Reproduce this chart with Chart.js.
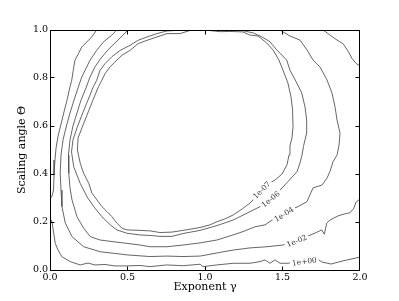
<!DOCTYPE html>
<html>
<head>
<meta charset="utf-8">
<script src="https://cdn.jsdelivr.net/npm/chart.js@4.4.1/dist/chart.umd.min.js"></script>
<style>
  html, body { margin: 0; padding: 0; background: #fff; }
  canvas { display: block; }
</style>
</head>
<body>
<canvas id="contourChart" width="399" height="301"></canvas>
<script>
const xTicks = [0, 0.5, 1.0, 1.5, 2.0];
const yTicks = [0, 0.2, 0.4, 0.6, 0.8, 1.0];

// contour lines as [gamma, theta] pairs
const level_1e07 = [
  [1.000, 1.000], [0.903, 0.998], [0.839, 0.985], [0.755, 0.985], [0.690, 0.971], [0.626, 0.957],
  [0.568, 0.943], [0.516, 0.915], [0.465, 0.895], [0.419, 0.867], [0.387, 0.846], [0.355, 0.818],
  [0.334, 0.790], [0.312, 0.763], [0.277, 0.708], [0.239, 0.646], [0.206, 0.592], [0.181, 0.550],
  [0.177, 0.500], [0.195, 0.445], [0.217, 0.403], [0.250, 0.361], [0.271, 0.320], [0.303, 0.292],
  [0.335, 0.264], [0.368, 0.243], [0.400, 0.222], [0.432, 0.195], [0.465, 0.174], [0.497, 0.167],
  [0.581, 0.165], [0.645, 0.163], [0.710, 0.156], [0.787, 0.158], [0.858, 0.165], [0.968, 0.177],
  [1.032, 0.188], [1.077, 0.201], [1.129, 0.213], [1.181, 0.229], [1.239, 0.254], [1.290, 0.279],
  [1.329, 0.304], [1.368, 0.329], [1.406, 0.358], [1.452, 0.375], [1.497, 0.400], [1.529, 0.438],
  [1.542, 0.479], [1.548, 0.517], [1.561, 0.550], [1.568, 0.597], [1.565, 0.667], [1.555, 0.721],
  [1.535, 0.779], [1.503, 0.833], [1.477, 0.875], [1.439, 0.917], [1.398, 0.946], [1.342, 0.975],
  [1.290, 0.979], [1.245, 0.992], [1.161, 0.994], [1.097, 0.993], [1.000, 1.000]
];
const level_1e06 = [
  [0.871, 1.000], [0.806, 0.998], [0.755, 0.996], [0.690, 0.985], [0.626, 0.971], [0.568, 0.957],
  [0.516, 0.936], [0.452, 0.915], [0.398, 0.888], [0.355, 0.860], [0.323, 0.832], [0.301, 0.790],
  [0.279, 0.763], [0.245, 0.708], [0.206, 0.646], [0.174, 0.592], [0.148, 0.542], [0.139, 0.492],
  [0.153, 0.430], [0.195, 0.361], [0.239, 0.305], [0.282, 0.264], [0.335, 0.222], [0.389, 0.188],
  [0.432, 0.167], [0.497, 0.153], [0.581, 0.146], [0.645, 0.144], [0.710, 0.140], [0.787, 0.140],
  [0.858, 0.152], [0.968, 0.165], [1.077, 0.185], [1.181, 0.208], [1.290, 0.243], [1.355, 0.264],
  [1.424, 0.295], [1.484, 0.333], [1.535, 0.368], [1.594, 0.410], [1.613, 0.446], [1.626, 0.479],
  [1.635, 0.514], [1.656, 0.571], [1.656, 0.625], [1.645, 0.680], [1.624, 0.738], [1.592, 0.779],
  [1.548, 0.833], [1.527, 0.875], [1.463, 0.917], [1.419, 0.951], [1.368, 0.971], [1.310, 0.988],
  [1.226, 1.000]
];
const level_1e04 = [
  [0.503, 1.000], [0.465, 0.975], [0.419, 0.946], [0.374, 0.917], [0.329, 0.883], [0.290, 0.846],
  [0.258, 0.804], [0.232, 0.758], [0.200, 0.708], [0.174, 0.654], [0.148, 0.600], [0.129, 0.542],
  [0.119, 0.479], [0.121, 0.404], [0.129, 0.342], [0.142, 0.292], [0.174, 0.222], [0.217, 0.174],
  [0.260, 0.139], [0.323, 0.125], [0.419, 0.117], [0.497, 0.111], [0.581, 0.104], [0.645, 0.097],
  [0.755, 0.097], [0.858, 0.104], [0.968, 0.113], [1.077, 0.125], [1.181, 0.146], [1.245, 0.160],
  [1.323, 0.180], [1.387, 0.188], [1.432, 0.208], [1.510, 0.232], [1.548, 0.250], [1.600, 0.264],
  [1.658, 0.285], [1.677, 0.313], [1.697, 0.342], [1.755, 0.354], [1.787, 0.383], [1.806, 0.410],
  [1.826, 0.451], [1.852, 0.479], [1.865, 0.521], [1.871, 0.571], [1.852, 0.625], [1.839, 0.679],
  [1.819, 0.738], [1.787, 0.792], [1.742, 0.846], [1.697, 0.875], [1.658, 0.917], [1.613, 0.958],
  [1.548, 0.975], [1.484, 1.000]
];
const level_1e02 = [
  [0.430, 1.000], [0.398, 0.978], [0.344, 0.950], [0.301, 0.915], [0.258, 0.874], [0.226, 0.832],
  [0.205, 0.804], [0.183, 0.763], [0.155, 0.708], [0.129, 0.654], [0.106, 0.600], [0.084, 0.542],
  [0.071, 0.479], [0.066, 0.404], [0.071, 0.333], [0.077, 0.264], [0.099, 0.195], [0.142, 0.139],
  [0.217, 0.097], [0.325, 0.076], [0.419, 0.069], [0.497, 0.063], [0.645, 0.056], [0.755, 0.058],
  [0.858, 0.056], [0.968, 0.058], [1.077, 0.071], [1.181, 0.083], [1.290, 0.092], [1.400, 0.097],
  [1.503, 0.104], [1.592, 0.121], [1.656, 0.139], [1.721, 0.157], [1.753, 0.167], [1.770, 0.149],
  [1.785, 0.195], [1.806, 0.208], [1.860, 0.226], [1.914, 0.236], [1.935, 0.238], [1.961, 0.258],
  [1.974, 0.283], [2.000, 0.296]
];
const level_1e02_corner = [
  [1.763, 1.000], [1.806, 0.979], [1.852, 0.958], [1.892, 0.942], [1.925, 0.910], [1.948, 0.882],
  [1.974, 0.861], [2.000, 0.850]
];
const level_1e00_left = [
  [0.301, 1.000], [0.269, 0.971], [0.237, 0.950], [0.205, 0.929], [0.183, 0.901], [0.161, 0.874],
  [0.150, 0.832], [0.140, 0.790], [0.129, 0.763], [0.110, 0.708], [0.090, 0.658], [0.071, 0.608],
  [0.052, 0.558], [0.039, 0.508], [0.032, 0.458], [0.026, 0.396], [0.023, 0.333], [0.013, 0.308],
  [0.000, 0.296]
];
const level_1e00_bottom = [
  [0.000, 0.217], [0.013, 0.200], [0.023, 0.158], [0.034, 0.111], [0.052, 0.083], [0.077, 0.055],
  [0.131, 0.035], [0.195, 0.021], [0.245, 0.029], [0.290, 0.021], [0.355, 0.023], [0.419, 0.017],
  [0.497, 0.017], [0.581, 0.019], [0.645, 0.014], [0.753, 0.021], [0.860, 0.018], [0.968, 0.024],
  [0.987, 0.014], [1.075, 0.021], [1.183, 0.028], [1.290, 0.028], [1.355, 0.035], [1.387, 0.042],
  [1.419, 0.028], [1.452, 0.042], [1.484, 0.028], [1.529, 0.028], [1.639, 0.035], [1.721, 0.048],
  [1.755, 0.033], [1.813, 0.025], [1.890, 0.038], [1.974, 0.050], [2.000, 0.054]
];

const contourLabels = ['1e-07', '1e-06', '1e-04', '1e-02', '1e+00'];
const labelGamma = [1.366, 1.424, 1.510, 1.592, 1.641];
const labelTheta = [0.333, 0.295, 0.232, 0.121, 0.035];
const labelAngle = [-45, -39, -32, -22, -8];

const serif = '"DejaVu Serif", "Liberation Serif", serif';

function line(points) {
  return {
    data: points.map(p => ({ x: p[0], y: p[1] })),
    showLine: true,
    borderColor: '#555',
    borderWidth: 0.9,
    pointRadius: 0,
    tension: 0,
    fill: false
  };
}

const contourExtras = {
  id: 'contourExtras',
  afterDatasetsDraw(chart) {
    const ctx = chart.ctx;
    const xs = chart.scales.x, ys = chart.scales.y;
    ctx.save();
    ctx.font = '7.5px ' + serif;
    ctx.textAlign = 'center';
    ctx.textBaseline = 'middle';
    contourLabels.forEach((txt, i) => {
      const px = xs.getPixelForValue(labelGamma[i]);
      const py = ys.getPixelForValue(labelTheta[i]);
      const w = ctx.measureText(txt).width;
      ctx.save();
      ctx.translate(px, py);
      ctx.rotate(labelAngle[i] * Math.PI / 180);
      ctx.fillStyle = '#fff';
      ctx.fillRect(-w / 2 - 2, -3, w + 4, 6);
      ctx.fillStyle = '#333';
      ctx.fillText(txt, 0, 0.5);
      ctx.restore();
    });
    ctx.restore();
  },
  afterDraw(chart) {
    const ctx = chart.ctx;
    const { left, top, right, bottom } = chart.chartArea;
    const xs = chart.scales.x, ys = chart.scales.y;
    ctx.save();
    ctx.strokeStyle = '#000';
    ctx.lineWidth = 1;
    ctx.strokeRect(left + 0.5, top + 0.5, right - left - 1, bottom - top);
    ctx.beginPath();
    xTicks.forEach(v => {
      let p = Math.floor(xs.getPixelForValue(v)) + 0.5;
      p = Math.min(Math.max(p, left + 0.5), right - 0.5);
      ctx.moveTo(p, bottom + 0.5); ctx.lineTo(p, bottom - 3.5);
      ctx.moveTo(p, top + 0.5); ctx.lineTo(p, top + 4.5);
    });
    yTicks.forEach(v => {
      let p = Math.floor(ys.getPixelForValue(v)) + 0.5;
      p = Math.min(Math.max(p, top + 0.5), bottom + 0.5);
      ctx.moveTo(left + 0.5, p); ctx.lineTo(left + 4.5, p);
      ctx.moveTo(right - 0.5, p); ctx.lineTo(right - 4.5, p);
    });
    ctx.stroke();
    ctx.restore();
  }
};

new Chart(document.getElementById('contourChart'), {
  type: 'scatter',
  data: {
    datasets: [
      line(level_1e07), line(level_1e06), line(level_1e04),
      line(level_1e02), line(level_1e02_corner),
      line(level_1e00_left), line(level_1e00_bottom)
    ]
  },
  options: {
    responsive: false,
    animation: false,
    events: [],
    layout: { padding: { top: 30, right: 39, left: 0, bottom: 0 } },
    plugins: {
      legend: { display: false },
      tooltip: { enabled: false }
    },
    scales: {
      x: {
        type: 'linear',
        min: 0,
        max: 2,
        afterBuildTicks: s => { s.ticks = xTicks.map(v => ({ value: v })); },
        afterFit: s => { s.height = 31; },
        grid: { display: false, drawTicks: false },
        border: { display: false },
        ticks: {
          autoSkip: false,
          maxRotation: 0,
          padding: 2,
          color: '#000',
          font: { family: serif, size: 9.5 },
          callback: v => Number(v).toFixed(1)
        },
        title: {
          display: true,
          text: 'Exponent γ',
          color: '#000',
          font: { family: serif, size: 11 },
          padding: { top: 0, bottom: 7 }
        }
      },
      y: {
        type: 'linear',
        min: 0,
        max: 1,
        afterBuildTicks: s => { s.ticks = yTicks.map(v => ({ value: v })); },
        afterFit: s => { s.width = 50; },
        grid: { display: false, drawTicks: false },
        border: { display: false },
        ticks: {
          autoSkip: false,
          padding: 2,
          color: '#000',
          font: { family: serif, size: 9.5 },
          callback: v => Number(v).toFixed(1)
        },
        title: {
          display: true,
          text: 'Scaling angle Θ',
          color: '#000',
          font: { family: serif, size: 11 },
          padding: { top: 16, bottom: 0 }
        }
      }
    }
  },
  plugins: [contourExtras]
});
</script>
</body>
</html>
